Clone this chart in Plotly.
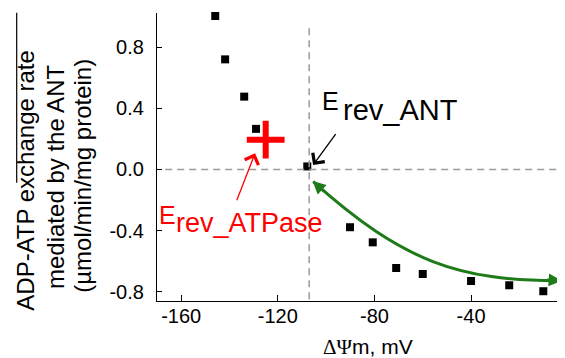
import plotly.graph_objects as go

# ---------------- data ----------------
dpsi_mv = [-145.9, -141.8, -133.9, -129.0, -107.8, -90.1, -80.7, -71.0, -60.0, -40.0, -24.2, -10.1]
exchange_rate = [1.005, 0.721, 0.477, 0.266, 0.020, -0.378, -0.477, -0.645, -0.684, -0.730, -0.758, -0.797]

atpase_x = [-125.0]
atpase_y = [0.195]

erev_ant = -107.0

x_tickvals = [-160, -120, -80, -40]
x_ticktext = ["-160", "-120", "-80", "-40"]
y_tickvals = [-0.8, -0.4, 0.0, 0.4, 0.8]
y_ticktext = ["-0.8", "-0.4", "0.0", "0.4", "0.8"]

# ---------------- layout geometry ----------------
OFF = 8  # page body margin
W, H = 565 - OFF, 358 - OFF
PL, PR, PT, PB = 157, 565, 13, 301  # plot area edges in reference pixels
ML, MR, MT, MB = PL - OFF, 0, PT - OFF, H - (PB - OFF)
PW = PR - PL
PH = PB - PT
FONT = "Liberation Sans, Arial, sans-serif"


def px(xp):
    return (xp - PL) / PW


def py(yp):
    return (PB - yp) / PH


fig = go.Figure()

fig.add_trace(go.Scatter(
    x=dpsi_mv, y=exchange_rate, mode="markers",
    marker=dict(symbol="square", size=8, color="black"),
    showlegend=False, cliponaxis=False,
))
fig.add_trace(go.Scatter(
    x=atpase_x, y=atpase_y, mode="markers",
    marker=dict(symbol="cross-thin", size=27, color="red",
                line=dict(color="red", width=6)),
    showlegend=False,
))

# dashed guide lines
fig.add_shape(type="line", xref="x", yref="y", x0=-166.6, x1=0, y0=0, y1=0,
              line=dict(color="#9a9a9a", width=1.5, dash="7px,5px"))
fig.add_shape(type="line", xref="x", yref="y", x0=erev_ant, x1=erev_ant, y0=0.924, y1=-0.87,
              line=dict(color="#9a9a9a", width=1.5, dash="7px,5px"))

# green curved arrow
green = "#1f7a1a"
fig.add_shape(type="path", xref="x", yref="y",
              path="M -105.3,-0.080 C -68.0,-0.610 -44.5,-0.728 -3.5,-0.728",
              line=dict(color=green, width=3))
fig.add_annotation(x=-2.5, y=-0.728, xref="x", yref="y", ax=-16, ay=-1,
                   showarrow=True, arrowhead=2, arrowsize=1, arrowwidth=2.6,
                   arrowcolor=green, text="")
fig.add_annotation(x=-105.6, y=-0.075, xref="x", yref="y", ax=13, ay=12,
                   showarrow=True, arrowhead=2, arrowsize=1, arrowwidth=2.6,
                   arrowcolor=green, text="")

# black arrow to E_rev_ANT
fig.add_annotation(x=-105.4, y=0.029, xref="x", yref="y", axref="x", ayref="y",
                   ax=-95.6, ay=0.242, showarrow=True, arrowhead=4, arrowsize=2.2,
                   arrowwidth=1.3, arrowcolor="black", text="")
# red arrow to E_rev_ATPase
fig.add_annotation(x=-129.4, y=0.106, xref="x", yref="y", axref="x", ayref="y",
                   ax=-137.2, ay=-0.211, showarrow=True, arrowhead=4, arrowsize=2.2,
                   arrowwidth=1.3, arrowcolor="red", text="")


def label(text, xp, baseline, size, color="black", angle=0, xanchor="left"):
    yc = baseline - 0.3465 * size
    fig.add_annotation(x=px(xp), y=py(yc), xref="paper", yref="paper",
                       text=text, showarrow=False, xanchor=xanchor, yanchor="middle",
                       textangle=angle, borderpad=0,
                       font=dict(family=FONT, size=size, color=color))


# E_rev_ANT
label("E", 320.5, 109.5, 25)
label("rev_ANT", 341.5, 120, 29)
# E_rev_ATPase
label("E", 157.5, 223.5, 25, color="red")
label("rev_ATPase", 175, 232.3, 27, color="red")

# y-axis title (three rotated lines)
ytitle_lines = ["ADP-ATP exchange rate", "mediated by the ANT", "(\u00b5mol/min/mg protein)"]
for txt, xc, yc in zip(ytitle_lines, [24.7, 55.0, 81.7], [180, 177, 176]):
    fig.add_annotation(x=px(xc), y=py(yc), xref="paper", yref="paper", text=txt,
                       showarrow=False, xanchor="center", yanchor="middle",
                       textangle=-90, borderpad=0,
                       font=dict(family=FONT, size=24, color="black"))

# x-axis title
fig.add_annotation(x=px(368), y=py(347), xref="paper", yref="paper",
                   text="<span style=\"font-family:'Liberation Serif'\">\u0394\u03a8</span>m, mV",
                   showarrow=False, xanchor="center", yanchor="middle", borderpad=0,
                   font=dict(family=FONT, size=21, color="black"))

# the 0 tick label cut by the right edge
fig.add_annotation(x=px(566.5), y=py(318), xref="paper", yref="paper", text="0",
                   showarrow=False, xanchor="center", yanchor="middle", borderpad=0,
                   font=dict(family=FONT, size=20, color="black"))

# artifact line at the far left
fig.add_shape(type="line", xref="paper", yref="paper", x0=px(16.7), x1=px(16.7),
              y0=py(12.7), y1=py(182.7), line=dict(color="black", width=1.2))

x_lo = -170.0
x_hi = (PR - 567.7) / 2.4167
fig.update_layout(
    width=W, height=H,
    margin=dict(l=ML, r=MR, t=MT, b=MB, pad=0),
    paper_bgcolor="white", plot_bgcolor="white",
    font=dict(family=FONT, size=20, color="black"),
    xaxis=dict(range=[x_lo, x_hi], tickvals=x_tickvals, ticktext=x_ticktext,
               ticks="inside", ticklen=6, tickwidth=1.3, tickcolor="black",
               showline=True, linecolor="black", linewidth=1.3, showgrid=False,
               zeroline=False, tickfont=dict(size=20), ticklabelstandoff=-3),
    yaxis=dict(range=[-0.861, 1.0245], tickvals=y_tickvals, ticktext=y_ticktext,
               ticks="inside", ticklen=5, tickwidth=1.3, tickcolor="black",
               showline=True, linecolor="black", linewidth=1.3, showgrid=False,
               zeroline=False, tickfont=dict(size=20), ticklabelstandoff=8),
)

fig.write_html("out.html")
